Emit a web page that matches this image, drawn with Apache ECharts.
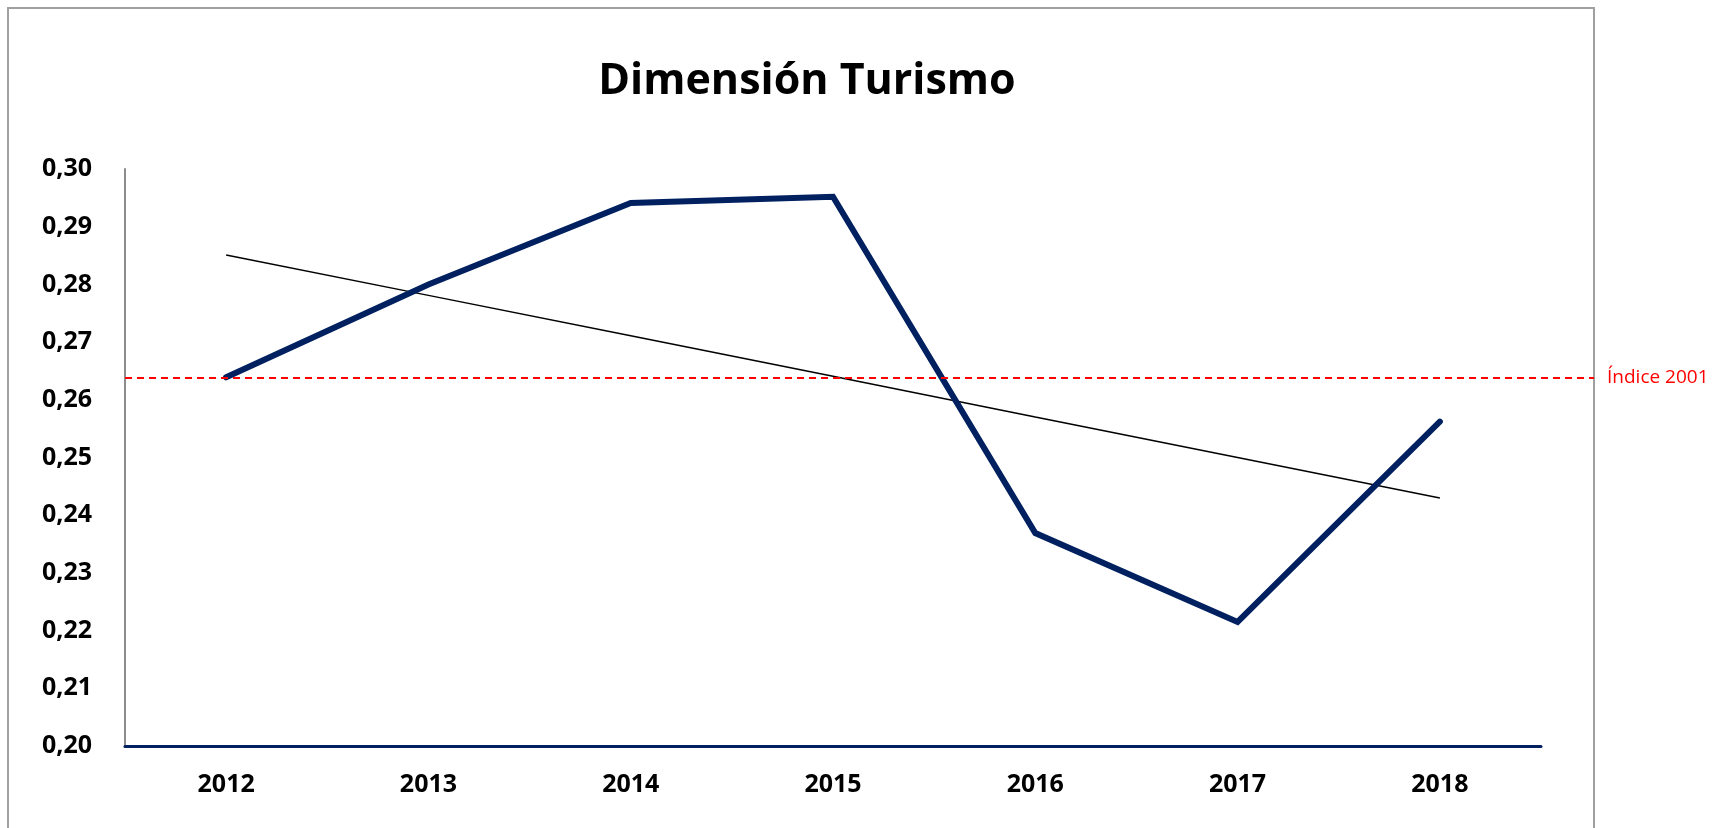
<!DOCTYPE html>
<html>
<head>
<meta charset="utf-8">
<script src="https://cdn.jsdelivr.net/npm/echarts@6/dist/echarts.min.js"></script>
<style>
  html, body { margin: 0; padding: 0; background: #fff; }
  #chart { width: 1719px; height: 828px; }
</style>
</head>
<body>
<div id="chart"></div>
<script>
// data
const years = ['2012', '2013', '2014', '2015', '2016', '2017', '2018'];
const turismo = [0.2639, 0.2800, 0.2941, 0.2952, 0.2369, 0.2215, 0.2562];
const tendencia = [0.2851, 0.2781, 0.2711, 0.2641, 0.2570, 0.2500, 0.2430];
const indice2001 = 0.2638;
const indiceLabel = 'Índice 2001';
const titleText = 'Dimensión Turismo';

const FONT = '"Open Sans", "Noto Sans", sans-serif';

const chart = echarts.init(document.getElementById('chart'));

const option = {
  animation: false,
  title: {
    text: titleText,
    left: 802,
    top: 55,
    textAlign: 'center',
    textStyle: { fontFamily: FONT, fontWeight: 'bold', fontSize: 43, color: '#000' }
  },
  graphic: [
    {
      type: 'rect',
      shape: { x: 8, y: 8, width: 1586, height: 840 },
      style: { fill: 'none', stroke: '#a0a0a0', lineWidth: 2 },
      silent: true
    }
  ],
  grid: [
    { left: 125, right: 178, top: 169, bottom: 82 },
    { left: 125, right: 125, top: 169, bottom: 82 }
  ],
  xAxis: [
    {
      type: 'category',
      gridIndex: 0,
      data: years,
      boundaryGap: true,
      axisLine: { lineStyle: { color: '#002060', width: 3 } },
      axisTick: { show: false },
      axisLabel: { margin: 26, fontFamily: FONT, fontWeight: 'bold', fontSize: 25, color: '#000' },
      splitLine: { show: false }
    },
    { type: 'value', gridIndex: 1, min: 0, max: 1, show: false }
  ],
  yAxis: [
    {
      type: 'value',
      gridIndex: 0,
      min: 0.2,
      max: 0.3,
      interval: 0.01,
      axisLine: { show: true, lineStyle: { color: '#8c8c8c', width: 2 } },
      axisTick: { show: false },
      splitLine: { show: false },
      axisLabel: {
        margin: 33,
        fontFamily: FONT,
        fontWeight: 'bold',
        fontSize: 25,
        color: '#000',
        formatter: v => v.toFixed(2).replace('.', ',')
      }
    },
    { type: 'value', gridIndex: 1, min: 0.2, max: 0.3, show: false }
  ],
  series: [
    {
      name: 'Tendencia',
      type: 'line',
      xAxisIndex: 0,
      yAxisIndex: 0,
      data: tendencia,
      symbol: 'none',
      z: 3,
      lineStyle: { color: '#000', width: 1.5 }
    },
    {
      name: 'Turismo',
      type: 'line',
      xAxisIndex: 0,
      yAxisIndex: 0,
      data: turismo,
      symbol: 'none',
      z: 4,
      lineStyle: { color: '#002060', width: 6, cap: 'round', join: 'miter' }
    },
    {
      name: indiceLabel,
      type: 'line',
      xAxisIndex: 1,
      yAxisIndex: 1,
      data: [],
      z: 2,
      markLine: {
        silent: true,
        symbol: 'none',
        precision: 4,
        lineStyle: { color: '#ff0000', type: [7, 5], width: 2 },
        label: {
          position: 'end',
          distance: 13,
          formatter: indiceLabel,
          color: '#ff0000',
          fontFamily: FONT,
          fontSize: 19
        },
        data: [{ yAxis: indice2001 }]
      }
    }
  ]
};

chart.setOption(option);
</script>
</body>
</html>
